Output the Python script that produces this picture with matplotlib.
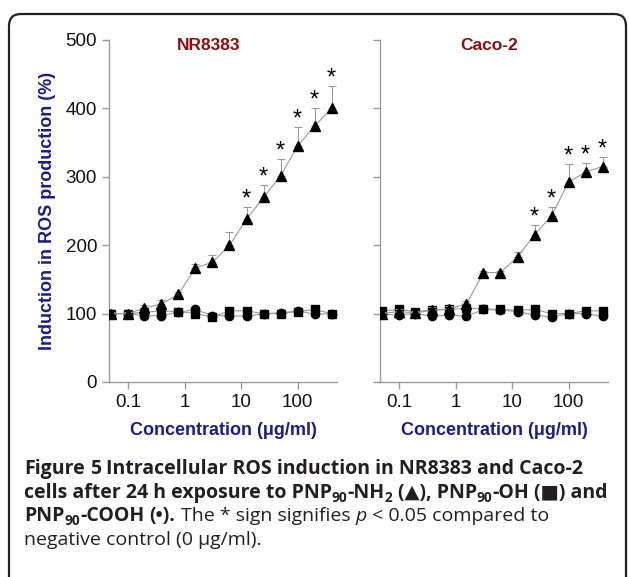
import numpy as np
import matplotlib
matplotlib.use("Agg")
import matplotlib.pyplot as plt
from matplotlib.patches import FancyBboxPatch
from matplotlib.transforms import IdentityTransform

# concentrations (ug/ml), 2-fold dilution series from 400
conc = [0.049, 0.098, 0.195, 0.39, 0.78, 1.56, 3.125, 6.25, 12.5, 25, 50, 100, 200, 400]

# NR8383
nr_nh2 = [100, 100, 108, 114, 128, 167, 175, 200, 238, 270, 301, 345, 374, 400]
nr_nh2_err = [3, 3, 4, 6, 4, 5, 11, 19, 18, 18, 25, 28, 26, 33]
nr_oh = [100, 100, 102, 104, 103, 100, 95, 104, 104, 100, 100, 103, 106, 100]
nr_cooh = [100, 100, 97, 97, 102, 106, 97, 97, 96, 100, 101, 104, 99, 100]
nr_sig = [0, 0, 0, 0, 0, 0, 0, 0, 1, 1, 1, 1, 1, 1]

# Caco-2
caco_nh2 = [100, 103, 101, 105, 107, 114, 160, 160, 183, 215, 243, 292, 307, 315]
caco_nh2_err = [3, 3, 3, 4, 4, 5, 3, 3, 7, 14, 13, 27, 13, 14]
caco_oh = [104, 106, 103, 105, 106, 108, 107, 106, 105, 106, 100, 100, 104, 104]
caco_cooh = [99, 98, 100, 96, 98, 96, 106, 105, 103, 98, 95, 100, 100, 96]
caco_sig = [0, 0, 0, 0, 0, 0, 0, 0, 0, 1, 1, 1, 1, 1]

titles = ["NR8383", "Caco-2"]
xticks = [0.1, 1, 10, 100]
xticklabels = ["0.1", "1", "10", "100"]
yticks = [0, 100, 200, 300, 400, 500]

plt.rcParams['font.family'] = ['Liberation Sans', 'DejaVu Sans']
W, H = 629, 577
fig = plt.figure(figsize=(W / 100, H / 100), dpi=100)

navy = '#1c1c8a'
red = '#8b1010'
grey = '#9a9a9a'

def px_axes(x0, y0, x1, y1):
    return fig.add_axes([x0 / W, 1 - y1 / H, (x1 - x0) / W, (y1 - y0) / H])

axL = px_axes(109, 40, 337, 382)
axR = px_axes(380, 40, 608, 382)

panels = [(axL, nr_nh2, nr_nh2_err, nr_oh, nr_cooh, nr_sig),
          (axR, caco_nh2, caco_nh2_err, caco_oh, caco_cooh, caco_sig)]

for i, (ax, nh2, err, oh, cooh, sig) in enumerate(panels):
    ax.plot(conc, oh, color=grey, lw=0.8, marker='s', ms=6, mfc='k', mec='k', zorder=3)
    ax.plot(conc, cooh, color=grey, lw=0.8, marker='o', ms=6, mfc='k', mec='k', zorder=3)
    ax.errorbar(conc, nh2, yerr=[np.zeros(len(err)), err], color=grey, lw=0.8,
                ecolor=grey, elinewidth=0.8, capsize=3, capthick=0.8,
                marker='^', ms=7.5, mfc='k', mec='k', zorder=4)
    for c, v, e, s in zip(conc, nh2, err, sig):
        if s:
            ax.annotate('*', (c, v + e), xytext=(0, 1), textcoords='offset points',
                        ha='center', va='baseline', fontsize=17, color='k')
    ax.set_xscale('log')
    ax.set_xlim(0.046, 500)
    ax.set_ylim(0, 500)
    ax.set_xticks(xticks)
    ax.set_xticklabels(xticklabels)
    ax.minorticks_off()
    ax.set_yticks(yticks)
    for sp in ['top', 'right']:
        ax.spines[sp].set_visible(False)
    for sp in ['left', 'bottom']:
        ax.spines[sp].set_color(grey)
        ax.spines[sp].set_linewidth(1.0)
    ax.tick_params(colors=grey, labelcolor='#111111', labelsize=13.5, length=5, width=1.0)
    ax.set_xlabel('Concentration (\u03bcg/ml)', color=navy, fontsize=13, fontweight='bold', labelpad=8)
    if i == 1:
        ax.set_yticklabels([])
    ax.patch.set_alpha(0)

axL.set_ylabel('Induction in ROS production (%)', color=navy, fontsize=13,
               fontweight='bold', labelpad=7)

fig.text(209 / W, 1 - 45 / H, titles[0], color=red, fontsize=12.5, fontweight='bold',
         ha='center', va='center')
fig.text(489 / W, 1 - 45 / H, titles[1], color=red, fontsize=12.5, fontweight='bold',
         ha='center', va='center')

# rounded frame
frame = FancyBboxPatch((9, -30), 617, H - 14 + 30, boxstyle='round,pad=0,rounding_size=12',
                       transform=IdentityTransform(), fill=False, ec='#222222', lw=1.6)
fig.add_artist(frame)

# caption with mixed styles
cap_fs = 14
cap_col = '#231f20'
cap_fam = ['Open Sans', 'DejaVu Sans']
r = fig.canvas.get_renderer()
space = 0.27 * cap_fs * 100 / 72

def caption_line(parts, y_px, x_px=24):
    x = x_px
    for s, st in parts:
        if s == ' ':
            x += space
            continue
        sub = 'sub' in st
        fs = cap_fs * (0.7 if sub else 1)
        yy = y_px + (4 if sub else 0)
        t = fig.text(x / W, 1 - yy / H, s, fontsize=fs, family=cap_fam, color=cap_col,
                     fontweight='bold' if 'b' in st else 'normal',
                     fontstyle='italic' if 'i' in st else 'normal',
                     va='baseline', ha='left')
        x = t.get_window_extent(r).x1

B, N = 'b', 'n'
caption_line([('Figure', B), (' ', B), ('5', B), (' ', B),
              ('Intracellular ROS induction in NR8383 and Caco-2', B)], 474)
caption_line([('cells after 24 h exposure to PNP', B), ('90', 'b sub'), ('-NH', B), ('2', 'b sub'),
              (' ', B), ('(\u25b2), PNP', B), ('90', 'b sub'), ('-OH', B), (' ', B),
              ('(\u25a0) and', B)], 498)
caption_line([('PNP', B), ('90', 'b sub'), ('-COOH', B), (' ', B), ('(\u2022).', B), (' ', N),
              ('The * sign signifies', N), (' ', N), ('p', 'i'), (' ', N),
              ('< 0.05 compared to', N)], 521)
caption_line([('negative control (0 \u03bcg/ml).', N)], 545)

fig.savefig('out.png', dpi=100)
